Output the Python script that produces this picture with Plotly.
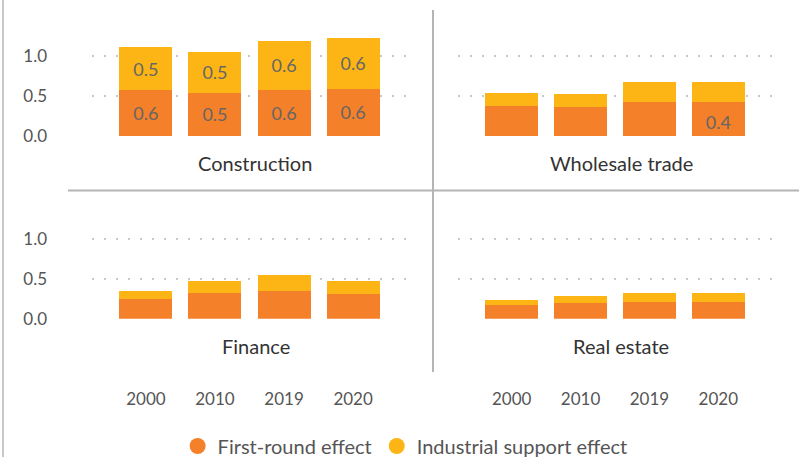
import plotly.graph_objects as go

years = ["2000", "2010", "2019", "2020"]
panels = ["Construction", "Wholesale trade", "Finance", "Real estate"]
first_round = {
    "Construction": [0.57, 0.54, 0.58, 0.59],
    "Wholesale trade": [0.37, 0.36, 0.42, 0.42],
    "Finance": [0.25, 0.32, 0.35, 0.31],
    "Real estate": [0.17, 0.20, 0.21, 0.21],
}
support = {
    "Construction": [0.54, 0.51, 0.61, 0.64],
    "Wholesale trade": [0.17, 0.17, 0.26, 0.26],
    "Finance": [0.10, 0.15, 0.20, 0.16],
    "Real estate": [0.065, 0.085, 0.11, 0.11],
}
series_names = ["First-round effect", "Industrial support effect"]
y_ticks = [0, 0.5, 1.0]

ORANGE = "#F5802A"
YELLOW = "#FDB515"
W, H = 807, 457
FONT = "Lato"

def px_x(p):
    return p / W

def px_y(p):
    return 1 - p / H

fig = go.Figure()

label_font = dict(family=FONT, size=18, color="#666666")
for i, name in enumerate(panels):
    ax = "" if i == 0 else str(i + 1)
    if name == "Construction":
        t1 = ["%{y:.1f}"] * 4
        t2 = ["%{y:.1f}"] * 4
        a1 = "middle"
    elif name == "Wholesale trade":
        t1 = ["", "", "", "%{y:.1f}"]
        t2 = [""] * 4
        a1 = "start"
    else:
        t1 = [""] * 4
        t2 = [""] * 4
        a1 = "middle"
    fig.add_trace(go.Bar(
        x=years, y=first_round[name], xaxis="x" + ax, yaxis="y" + ax,
        marker=dict(color=ORANGE, line=dict(width=0)), texttemplate=t1,
        textposition="inside", insidetextanchor=a1, textangle=0,
        insidetextfont=label_font, showlegend=False, hoverinfo="skip",
        name=series_names[0]))
    fig.add_trace(go.Bar(
        x=years, y=support[name], xaxis="x" + ax, yaxis="y" + ax,
        marker=dict(color=YELLOW, line=dict(width=0)), texttemplate=t2,
        textposition="inside", insidetextanchor="middle", textangle=0,
        insidetextfont=label_font, showlegend=False, hoverinfo="skip",
        name=series_names[1]))

# legend entries as circles
for nm, col in zip(series_names, [ORANGE, YELLOW]):
    fig.add_trace(go.Scatter(x=[None], y=[None], mode="markers",
                             marker=dict(color=col, size=20, symbol="circle"),
                             name=nm, showlegend=True))

x_domains = [[px_x(92), px_x(407)], [px_x(458), px_x(772)],
             [px_x(92), px_x(407)], [px_x(458), px_x(772)]]
y_domains = [[px_y(136), px_y(16)], [px_y(136), px_y(16)],
             [px_y(318.7), px_y(198.7)], [px_y(318.7), px_y(198.7)]]

layout = dict(
    width=W, height=H,
    margin=dict(l=0, r=0, t=0, b=0, autoexpand=False),
    paper_bgcolor="white", plot_bgcolor="white",
    barmode="stack", bargap=0.232,
    font=dict(family=FONT, color="#555555"),
    legend=dict(orientation="h", x=0.502, xanchor="center", y=px_y(446),
                yanchor="middle", font=dict(family=FONT, size=20, color="#555555"),
                itemsizing="trace", itemwidth=30, tracegroupgap=0,
                traceorder="normal", bgcolor="rgba(0,0,0,0)"),
)
for i in range(4):
    ax = "" if i == 0 else str(i + 1)
    layout["xaxis" + ax] = dict(
        domain=x_domains[i], anchor="y" + ax, type="category",
        range=[-0.78, 3.78], showgrid=False, zeroline=False, showline=False,
        ticks="", showticklabels=(i >= 2), ticklabelstandoff=68,
        tickfont=dict(family=FONT, size=17, color="#555555"), fixedrange=True)
    layout["yaxis" + ax] = dict(
        domain=y_domains[i], anchor="x" + ax, range=[0, 1.5],
        tickvals=y_ticks, tickformat=".1f", showticklabels=(i % 2 == 0),
        ticklabelstandoff=44, tickfont=dict(family=FONT, size=17, color="#555555"),
        showgrid=True, gridcolor="#c8c8c8", gridwidth=2, griddash="2px,10px",
        zeroline=False, showline=False, ticks="", fixedrange=True)
fig.update_layout(**layout)

# panel titles
title_pos = [(255, 163), (621, 163), (256, 346), (621, 346)]
for name, (cx, cy) in zip(panels, title_pos):
    fig.add_annotation(text=name, xref="paper", yref="paper",
                       x=px_x(cx), y=px_y(cy), xanchor="center", yanchor="middle",
                       showarrow=False, font=dict(family=FONT, size=20, color="#333333"))

# separators
line_col = "#b4b4b4"
fig.add_shape(type="line", xref="paper", yref="paper",
              x0=px_x(68), x1=px_x(799), y0=px_y(190.5), y1=px_y(190.5),
              line=dict(color=line_col, width=2))
fig.add_shape(type="line", xref="paper", yref="paper",
              x0=px_x(433), x1=px_x(433), y0=px_y(10), y1=px_y(372),
              line=dict(color=line_col, width=2))
fig.add_shape(type="line", xref="paper", yref="paper",
              x0=px_x(3), x1=px_x(3), y0=px_y(0), y1=px_y(457),
              line=dict(color="#c8c8c8", width=2))

fig.write_html("out.html", config={"displayModeBar": False},
               post_script="document.body.style.margin='0';")
